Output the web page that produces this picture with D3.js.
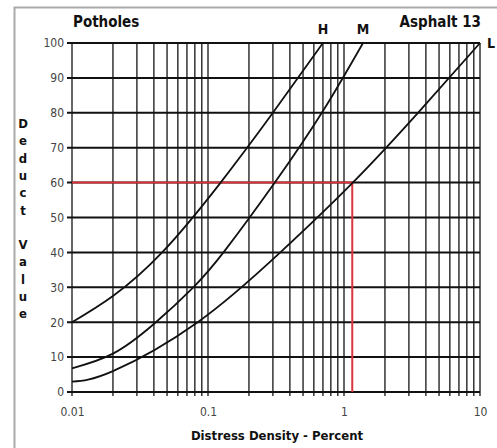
<!DOCTYPE html>
<html>
<head>
<meta charset="utf-8">
<script src="https://cdn.jsdelivr.net/npm/d3@7"></script>
<style>
  body { margin: 0; background: #fff; }
  svg { display: block; font-family: "DejaVu Sans", sans-serif; font-stretch: condensed; }
</style>
</head>
<body>
<div class="canvas"></div>
<script>
// curve readings: distress density (%) vs deduct value
const hDensity = [0.01, 0.02, 0.046, 0.121, 0.30, 0.70];
const hDeduct = [20, 27.5, 40, 59.5, 80, 100];

const mDensity = [0.01, 0.02, 0.04, 0.078, 0.133, 0.31, 0.70, 1.38];
const mDeduct = [6.8, 11, 19.5, 30, 40.5, 60, 80.5, 100];

const lDensity = [0.01, 0.02, 0.084, 0.34, 1.16, 3.5, 10];
const lDeduct = [3, 6, 20, 40, 60, 80, 100];

const curveLabels = ["H", "M", "L"];

// example reading (red guide)
const guideDensity = 1.15;
const guideDeduct = 60;

const xTickLabels = [0.01, 0.1, 1, 10];
const yTickValues = [0, 10, 20, 30, 40, 50, 60, 70, 80, 90, 100];

const width = 497;
const height = 448;
const margin = { top: 43, right: 17, bottom: 56, left: 72 };
const graphWidth = width - margin.left - margin.right;
const graphHeight = height - margin.top - margin.bottom;

const svg = d3
  .select(".canvas")
  .append("svg")
  .attr("width", width)
  .attr("height", height);

// outer frame
svg
  .append("rect")
  .attr("x", 14.5)
  .attr("y", 7.5)
  .attr("width", width)
  .attr("height", height)
  .attr("fill", "none")
  .attr("stroke", "#aaa")
  .attr("stroke-width", 2);

const graph = svg
  .append("g")
  .attr("transform", `translate(${margin.left}, ${margin.top})`);

// scales
const x = d3.scaleLog().domain([0.01, 10]).range([0, graphWidth]);
const y = d3.scaleLinear().domain([0, 100]).range([graphHeight, 0]);

// vertical grid lines (log minor ticks)
graph
  .append("g")
  .attr("class", "x-grid")
  .selectAll("line")
  .data(x.ticks())
  .enter()
  .append("line")
  .attr("x1", d => x(d))
  .attr("x2", d => x(d))
  .attr("y1", y(100))
  .attr("y2", y(0) + 4)
  .attr("stroke", "#333")
  .attr("stroke-width", 1.5);

// horizontal grid lines
graph
  .append("g")
  .attr("class", "y-grid")
  .selectAll("line")
  .data(yTickValues)
  .enter()
  .append("line")
  .attr("x1", -5)
  .attr("x2", graphWidth)
  .attr("y1", d => y(d))
  .attr("y2", d => y(d))
  .attr("stroke", "#111")
  .attr("stroke-width", 2);

// red guide lines
graph
  .append("path")
  .attr("d", `M${x(0.01)},${y(guideDeduct)}H${x(guideDensity)}V${y(0)}`)
  .attr("fill", "none")
  .attr("stroke", "#d9343f")
  .attr("stroke-width", 2);

// curves
const line = d3
  .line()
  .x(d => x(d[0]))
  .y(d => y(d[1]))
  .curve(d3.curveNatural);

const series = [
  d3.zip(hDensity, hDeduct),
  d3.zip(mDensity, mDeduct),
  d3.zip(lDensity, lDeduct)
];

graph
  .selectAll(".curve")
  .data(series)
  .enter()
  .append("path")
  .attr("class", "curve")
  .attr("d", line)
  .attr("fill", "none")
  .attr("stroke", "#111")
  .attr("stroke-width", 1.8);

// curve end labels
graph
  .selectAll(".curve-label")
  .data(series)
  .enter()
  .append("text")
  .attr("class", "curve-label")
  .attr("x", (d, i) => x(d[d.length - 1][0]) + (i == 2 ? 11 : 0))
  .attr("y", (d, i) => (i == 2 ? y(100) + 5 : y(100) - 9))
  .attr("text-anchor", "middle")
  .attr("font-size", 14)
  .attr("font-weight", "bold")
  .attr("fill", "#111")
  .text((d, i) => curveLabels[i]);

// axes labels
const xAxis = d3
  .axisBottom(x)
  .tickValues(xTickLabels)
  .tickSize(0)
  .tickPadding(15)
  .tickFormat(d => d);

const yAxis = d3
  .axisLeft(y)
  .tickValues(yTickValues)
  .tickSize(0)
  .tickPadding(8);

const xAxisGroup = graph
  .append("g")
  .attr("transform", `translate(0, ${graphHeight})`)
  .call(xAxis);

const yAxisGroup = graph.append("g").call(yAxis);

[xAxisGroup, yAxisGroup].forEach(g => {
  g.select(".domain").remove();
  g.selectAll("text")
    .attr("font-size", 12)
    .attr("font-family", "DejaVu Sans, sans-serif")
    .style("font-stretch", "condensed")
    .attr("fill", "#444");
});

// titles
svg
  .append("text")
  .attr("x", 73)
  .attr("y", 27)
  .attr("font-size", 15)
  .attr("font-weight", "bold")
  .attr("fill", "#111")
  .text("Potholes");

svg
  .append("text")
  .attr("x", 481)
  .attr("y", 27)
  .attr("text-anchor", "end")
  .attr("font-size", 15)
  .attr("font-weight", "bold")
  .attr("fill", "#111")
  .text("Asphalt 13");

svg
  .append("text")
  .attr("x", 277)
  .attr("y", 440)
  .attr("text-anchor", "middle")
  .attr("font-size", 13)
  .attr("font-weight", "bold")
  .attr("fill", "#111")
  .text("Distress Density - Percent");

// vertical stacked y title
const yTitle = "Deduct Value".split("");
svg
  .append("text")
  .attr("font-size", 13)
  .attr("font-weight", "bold")
  .attr("fill", "#111")
  .attr("text-anchor", "middle")
  .selectAll("tspan")
  .data(yTitle)
  .enter()
  .append("tspan")
  .attr("x", 23)
  .attr("y", (d, i) => 128 + i * 17.3)
  .text(d => d);
</script>
</body>
</html>
